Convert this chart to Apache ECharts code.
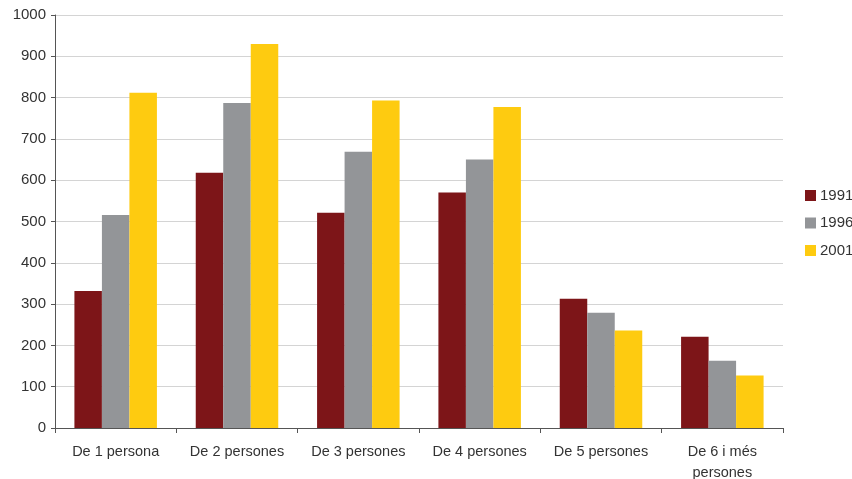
<!DOCTYPE html>
<html><head><meta charset="utf-8">
<script src="https://cdn.jsdelivr.net/npm/echarts@6/dist/echarts.min.js"></script>
<style>html,body{margin:0;padding:0;background:#fff}#c{width:852px;height:479px}</style>
</head><body><div id="c"></div>
<script>
const categories = ['De 1 persona','De 2 persones','De 3 persones','De 4 persones','De 5 persones','De 6 i més\npersones'];
const s1991 = [332, 618, 521, 570, 313, 221];
const s1996 = [516, 787, 669, 650, 279, 163];
const s2001 = [812, 930, 793, 777, 236, 127];
const yTicks = [0,100,200,300,400,500,600,700,800,900,1000];

const chart = echarts.init(document.getElementById('c'));
const font = 'Liberation Sans, Arial, sans-serif';
chart.setOption({
  animation: false,
  textStyle: {fontFamily: font},
  grid: {left: 55, right: 69, top: 15, bottom: 51, containLabel: false, outerBoundsMode: 'none'},
  legend: {
    orient: 'vertical', left: 805, top: 188, padding: 0,
    itemWidth: 11, itemHeight: 11, itemGap: 12.5,
    icon: 'rect',
    textStyle: {fontSize: 15, color: '#333', fontFamily: font, padding: [0,0,0,-1]},
    data: ['1991','1996','2001']
  },
  xAxis: {
    type: 'category', data: categories,
    axisLine: {lineStyle: {color: '#555', width: 1}},
    axisTick: {show: true, interval: 0, length: 5, lineStyle: {color: '#555'}},
    axisLabel: {interval: 0, hideOverlap: false, fontSize: 14.5, color: '#333', margin: 13, lineHeight: 21, fontFamily: font}
  },
  yAxis: {
    type: 'value', min: yTicks[0], max: yTicks[yTicks.length-1], interval: 100,
    axisLine: {show: true, lineStyle: {color: '#555', width: 1}},
    axisTick: {show: true, length: 4, lineStyle: {color: '#555'}},
    axisLabel: {fontSize: 15, color: '#333', margin: 9, fontFamily: font, formatter: v => String(v)},
    splitLine: {lineStyle: {color: '#d4d4d4', width: 1}}
  },
  series: [
    {name: '1991', type: 'bar', data: s1991, itemStyle: {color: '#7d1518'}, barGap: '0%', barCategoryGap: '32%'},
    {name: '1996', type: 'bar', data: s1996, itemStyle: {color: '#939598'}, barGap: '0%', barCategoryGap: '32%'},
    {name: '2001', type: 'bar', data: s2001, itemStyle: {color: '#fecb10'}, barGap: '0%', barCategoryGap: '32%'}
  ]
});
</script></body></html>
